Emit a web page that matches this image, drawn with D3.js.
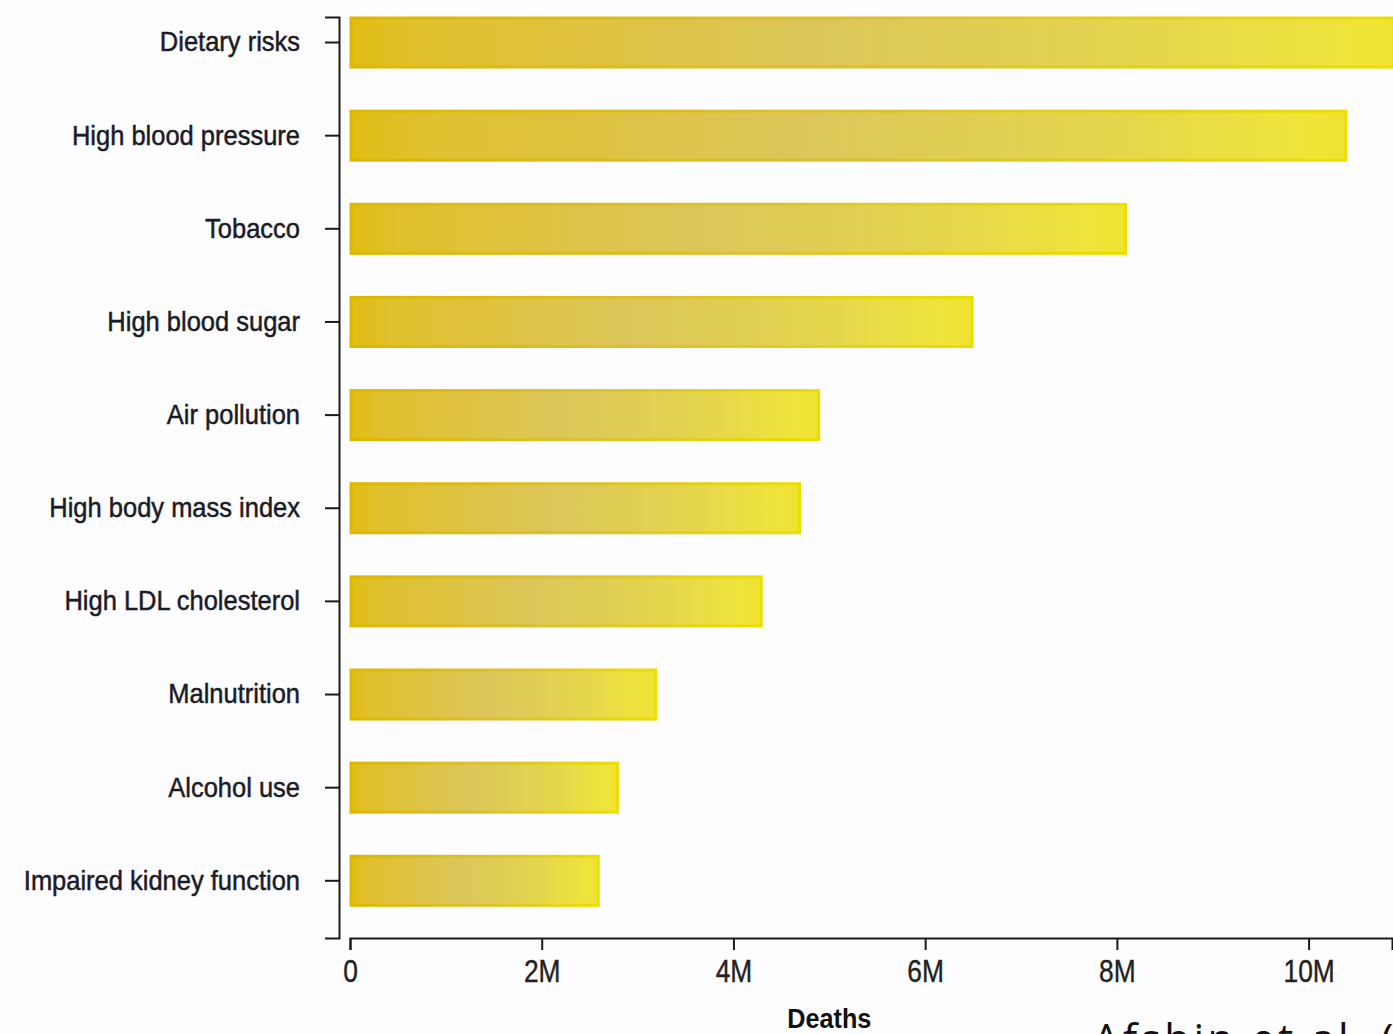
<!DOCTYPE html>
<html>
<head>
<meta charset="utf-8">
<script src="https://cdn.jsdelivr.net/npm/d3@7"></script>
<style>
  html, body { margin: 0; padding: 0; background: #fdfdff; overflow: hidden; }
  svg { display: block; }
  .narrow { font-family: 'Liberation Sans', Arial, sans-serif; }
</style>
</head>
<body>
<svg id="chart" width="1393" height="1034"></svg>
<script>
// Leading risk factors for deaths worldwide
const riskFactors = [
  "Dietary risks",
  "High blood pressure",
  "Tobacco",
  "High blood sugar",
  "Air pollution",
  "High body mass index",
  "High LDL cholesterol",
  "Malnutrition",
  "Alcohol use",
  "Impaired kidney function"
];
// deaths attributable to each risk factor
const deaths = [10.9e6, 10.4e6, 8.1e6, 6.5e6, 4.9e6, 4.7e6, 4.3e6, 3.2e6, 2.8e6, 2.6e6];
const xTickValues = [0, 2e6, 4e6, 6e6, 8e6, 10e6];
const xTickLabels = ["0", "2M", "4M", "6M", "8M", "10M"];
const xAxisTitle = "Deaths";
const citation = "Afshin et al. (2019)";

const rows = riskFactors.map((name, i) => ({ name, value: deaths[i] }));

const svg = d3.select("#chart");

const x = d3.scaleLinear().domain([0, 10.87e6]).range([350, 1392]);
const y = d3.scaleBand()
  .domain(riskFactors)
  .range([17, 938])
  .paddingInner(0.452)
  .paddingOuter(0.17)
  .align(0);

// squeeze a text horizontally to get a condensed face from a regular one
function condense(sel, factor) {
  sel.each(function () {
    const len = this.getComputedTextLength();
    d3.select(this)
      .attr("textLength", len * factor)
      .attr("lengthAdjust", "spacingAndGlyphs");
  });
}

// bar gradients: warm gold on the left fading to bright lemon on the right
const defs = svg.append("defs");
const fillGrad = defs.append("linearGradient").attr("id", "barFill")
  .attr("x1", "0").attr("x2", "1").attr("y1", "0").attr("y2", "0");
[["0%", "#e1bd12"], ["6%", "#e0c02c"], ["45%", "#dcc65a"], ["75%", "#e4d54e"], ["95%", "#efe43c"], ["100%", "#f0e230"]]
  .forEach(([o, c]) => fillGrad.append("stop").attr("offset", o).attr("stop-color", c));
const edgeGrad = defs.append("linearGradient").attr("id", "barEdge")
  .attr("x1", "0").attr("x2", "1").attr("y1", "0").attr("y2", "0");
[["0%", "#ddb800"], ["50%", "#dcc030"], ["100%", "#ecde00"]]
  .forEach(([o, c]) => edgeGrad.append("stop").attr("offset", o).attr("stop-color", c));

svg.append("g")
  .selectAll("rect")
  .data(rows)
  .join("rect")
  .attr("x", x(0) + 1)
  .attr("y", d => y(d.name) + 1)
  .attr("width", d => x(d.value) - x(0) - 2)
  .attr("height", y.bandwidth() - 2)
  .attr("fill", "url(#barFill)")
  .attr("stroke", "url(#barEdge)")
  .attr("stroke-width", 3);

// y axis with category labels
const yAxis = svg.append("g")
  .attr("class", "narrow")
  .attr("transform", "translate(339,0)")
  .call(d3.axisLeft(y).tickSizeInner(14).tickSizeOuter(14).tickPadding(25));
yAxis.attr("font-family", null);
yAxis.selectAll("text")
  .attr("font-size", 28)
  .attr("fill", "#1b1b28")
  .attr("stroke", "#1b1b28")
  .attr("stroke-width", 0.5)
  .call(condense, 0.91);

// x axis
const xAxis = svg.append("g")
  .attr("class", "narrow")
  .attr("transform", "translate(0,938)")
  .call(d3.axisBottom(x)
    .tickValues(xTickValues)
    .tickFormat((d, i) => xTickLabels[i])
    .tickSizeInner(12).tickSizeOuter(12).tickPadding(10));
xAxis.attr("font-family", null);
xAxis.selectAll("text")
  .attr("font-size", 31)
  .attr("fill", "#222")
  .attr("stroke", "#222")
  .attr("stroke-width", 0.4)
  .call(condense, 0.85);

[yAxis, xAxis].forEach(g => {
  g.selectAll("path, line").attr("stroke", "#1a1a1a").attr("stroke-width", 2);
});

svg.append("text")
  .attr("class", "narrow")
  .attr("x", x(5e6))
  .attr("y", 1028)
  .attr("text-anchor", "middle")
  .attr("font-size", 28)
  .attr("font-weight", "bold")
  .attr("fill", "#111")
  .text(xAxisTitle)
  .call(condense, 0.9);

svg.append("text")
  .attr("x", 1093)
  .attr("y", 1054)
  .attr("font-family", "'Open Sans', sans-serif")
  .attr("font-size", 42)
  .attr("letter-spacing", 3.5)
  .attr("fill", "#111")
  .text(citation);
</script>
</body>
</html>
